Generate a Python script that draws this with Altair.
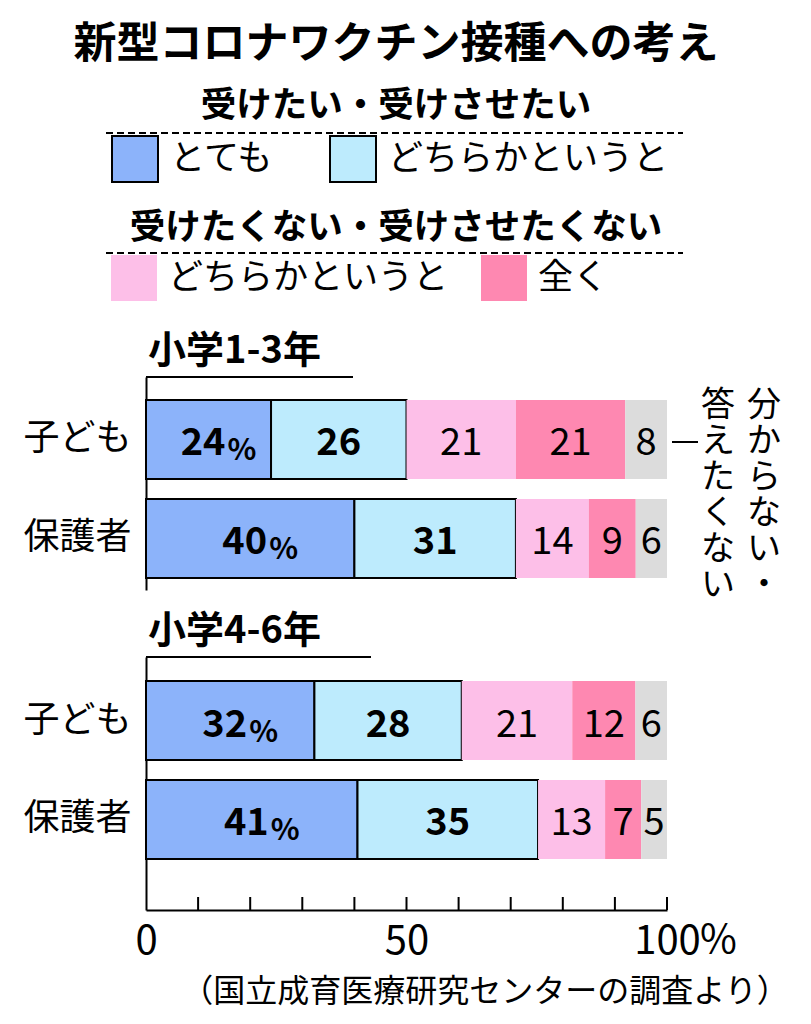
import altair as alt
import pandas as pd

FONT = "Noto Sans CJK JP"

# ---- data ----
grades = ["小学1-3年", "小学1-3年", "小学4-6年", "小学4-6年"]
who = ["子ども", "保護者", "子ども", "保護者"]
who_order = ["子ども", "保護者"]
cats = ["受けたい|とても", "受けたい|どちらかというと",
        "受けたくない|どちらかというと", "受けたくない|全く",
        "分からない・答えたくない"]
v_totemo = [24, 40, 32, 41]
v_yes_somewhat = [26, 31, 28, 35]
v_no_somewhat = [21, 14, 21, 13]
v_not_at_all = [21, 9, 12, 7]
v_unknown = [8, 6, 6, 5]
colors = ["#8cb3fa", "#bdebfd", "#fdbfe8", "#fe88b1", "#dcdcdc"]
tick_pct = [10, 20, 30, 40, 50, 60, 70, 80, 90, 100]
label_pct = [0, 50, 100]

series = [v_totemo, v_yes_somewhat, v_no_somewhat, v_not_at_all, v_unknown]
rows = []
for i in range(len(grades)):
    for j, vals in enumerate(series):
        rows.append({"grade": grades[i], "who": who[i], "cat": cats[j],
                     "value": vals[i], "ord": j})
df = pd.DataFrame(rows)
one = pd.DataFrame({"k": [0]})

# ---- shared scale / axis ----
XS = alt.Scale(domain=[0, 1])
xax = alt.Axis(values=[p / 100 for p in label_pct],
               labelExpr="format(datum.value*100, 'd')",
               title=None, grid=False, ticks=False, tickSize=0,
               domainColor="black", domainWidth=2,
               labelFontSize=40, labelColor="black", labelPadding=11,
               labelFlush=False, labelFont=FONT)


def yax():
    return alt.Axis(orient="left", title=None, ticks=False, tickSize=0,
                    domainColor="black", domainWidth=2, labelFontSize=36,
                    labelColor="black", labelPadding=15, labelFont=FONT)


leg1 = alt.Legend(orient="none", legendX=-35, legendY=127, direction="horizontal",
                  title=None, values=cats[:2],
                  labelExpr="slice(datum.label, indexof(datum.label, '|') + 1)",
                  symbolType="square", symbolSize=2116, symbolStrokeColor="black",
                  symbolStrokeWidth=2, symbolOpacity=1, labelFontSize=35,
                  labelColor="black", labelOffset=11, columnPadding=50,
                  padding=0, labelLimit=600, labelFont=FONT)
leg2 = alt.Legend(orient="none", legendX=-35, legendY=247, direction="horizontal",
                  title=None, values=cats[2:4],
                  labelExpr="slice(datum.label, indexof(datum.label, '|') + 1)",
                  symbolType="square", symbolSize=2116, symbolStrokeWidth=0,
                  symbolOpacity=1, labelFontSize=35, labelColor="black",
                  labelOffset=11, columnPadding=32, padding=0, labelLimit=600,
                  labelFont=FONT)


def group(grade, rng, pin, pout, align):
    Y = alt.Y("who:N", sort=who_order,
              scale=alt.Scale(domain=who_order, range=rng, paddingInner=pin,
                              paddingOuter=pout, align=align),
              axis=yax())
    base = alt.Chart(df).transform_filter(alt.datum.grade == grade)
    bars = base.mark_bar(stroke="black").encode(
        x=alt.X("value:Q", stack="normalize", scale=XS, axis=xax),
        y=Y,
        fill=alt.Fill("cat:N", scale=alt.Scale(domain=cats, range=colors), legend=leg1),
        strokeWidth=alt.condition(alt.FieldOneOfPredicate(field="cat", oneOf=cats[:2]),
                                  alt.value(2), alt.value(0)),
        order=alt.Order("ord:Q"),
    )
    lab = (base.transform_joinaggregate(total="sum(value)", groupby=["who"])
           .transform_window(cum="sum(value)", sort=[alt.SortField("ord")],
                             groupby=["who"], frame=[None, 0])
           .transform_calculate(mid="(datum.cum - datum.value/2) / datum.total"))
    X = alt.X("mid:Q", scale=XS, axis=xax)
    t1 = lab.transform_filter(alt.datum.ord == 0).mark_text(
        fontSize=38, fontWeight="bold", align="right", dx=17, dy=5,
        baseline="middle", color="black").encode(x=X, y=Y, text="value:Q")
    t1p = lab.transform_filter(alt.datum.ord == 0).mark_text(
        text="%", fontSize=30, fontWeight="bold", align="left", dx=19, dy=12,
        baseline="middle", color="black").encode(x=X, y=Y)
    t2 = lab.transform_filter(alt.datum.ord == 1).mark_text(
        fontSize=38, fontWeight="bold", align="center", dy=5,
        baseline="middle", color="black").encode(x=X, y=Y, text="value:Q")
    t3 = lab.transform_filter(alt.datum.ord >= 2).mark_text(
        fontSize=38, fontWeight="normal", align="center", dy=5,
        baseline="middle", color="black").encode(x=X, y=Y, text="value:Q")
    return alt.layer(bars, t1, t1p, t2, t3)


g1 = group("小学1-3年", [369, 582], 0.202, 0.1768, 0.657)
g2 = group("小学4-6年", [649, 902], 0.202, 0.3788, 0.32)

dummy = alt.Chart(df).transform_filter(
    alt.FieldOneOfPredicate(field="cat", oneOf=cats[2:4])
).mark_square(opacity=0).encode(
    color=alt.Color("cat:N", scale=alt.Scale(domain=cats[2:4], range=colors[2:4]),
                    legend=leg2)
)

ticks = alt.Chart(pd.DataFrame({"p": tick_pct})).transform_calculate(
    t="datum.p/100").mark_rule(color="black", strokeWidth=2).encode(
    x=alt.X("t:Q", scale=XS, axis=xax), y=alt.value(889), y2=alt.value(902))

pct = alt.Chart(pd.DataFrame({"p": [label_pct[-1]]})).transform_calculate(
    t="datum.p/100").mark_text(text="%", fontSize=40, align="left",
                               baseline="top", dx=33, color="black").encode(
    x=alt.X("t:Q", scale=XS, axis=xax), y=alt.value(913))


def note(text, x, y, size, weight="normal", align="center", baseline="alphabetic", **kw):
    return alt.Chart(one).mark_text(text=text, fontSize=size, fontWeight=weight,
                                    align=align, baseline=baseline, color="black",
                                    **kw).encode(x=alt.value(x), y=alt.value(y))


def hline(x1, x2, y, **kw):
    return alt.Chart(one).mark_rule(color="black", strokeWidth=2, **kw).encode(
        x=alt.value(x1), x2=alt.value(x2), y=alt.value(y))


notes = [
    note("新型コロナワクチン接種への考え", 250, 50, 43, "bold"),
    note("受けたい・受けさせたい", 250, 109, 35.5, "bold"),
    note("受けたくない・受けさせたくない", 250, 231, 35.5, "bold"),
    hline(-40, 537, 125, strokeDash=[7, 4]),
    hline(-40, 537, 245, strokeDash=[7, 4]),
    note("小学1-3年", 2, 355, 38, "bold", align="left"),
    note("小学4-6年", 2, 635, 38, "bold", align="left"),
    hline(0, 207, 369),
    hline(0, 225, 649),
    hline(526, 552, 434),
    note(["分", "か", "ら", "な", "い", "・"], 618, 381, 34, baseline="top", lineHeight=36),
    note(["答", "え", "た", "く", "な", "い"], 572, 381, 34, baseline="top", lineHeight=36),
    note("（国立成育医療研究センターの調査より）", 339, 994, 32),
]

chart = alt.layer(g1, g2, dummy, ticks, pct, *notes).resolve_scale(
    y="independent"
).properties(
    width=521, height=902,
    padding={"left": 138, "top": 0, "right": 130, "bottom": 110},
    autosize=alt.AutoSizeParams(type="none"),
    background="white",
).configure(font=FONT).configure_view(stroke=None)

chart.save("out.html", embed_options={"renderer": "svg", "actions": False})
